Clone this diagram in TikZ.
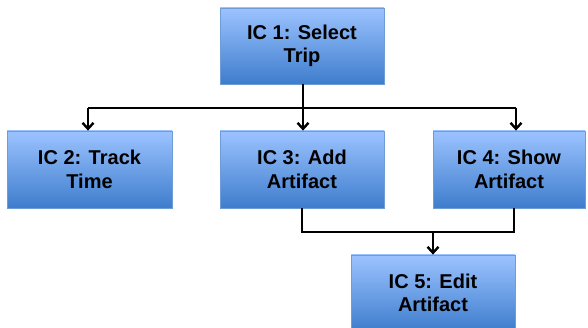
\documentclass[tikz,border=0pt]{standalone}
\usepackage{fontspec}
\setmainfont{Liberation Sans}
\usetikzlibrary{arrows.meta}
\definecolor{boxtop}{HTML}{9CC3FF}
\definecolor{boxbot}{HTML}{3E7DCD}
\definecolor{boxedge}{HTML}{6E9CD6}
\tikzset{
  icbox/.style={draw=boxedge, line width=0.8pt, top color=boxtop, bottom color=boxbot,
    align=center, font=\fontsize{20}{23.5}\selectfont\bfseries, inner sep=0pt},
  link/.style={line width=2.6pt, line join=miter},
  linkarrow/.style={link, -{Straight Barb[length=6pt,width=11pt,line width=2.4pt]}}
}
\begin{document}
\begin{tikzpicture}[x=1pt,y=-1pt]
  \useasboundingbox (0,0) rectangle (588,328);
  \begin{scope}
  \clip (0,0) rectangle (588,328);
  % boxes (corner coordinates in pixels)
  \node[icbox, minimum width=164pt, minimum height=76pt] (ic1) at (302,46) {IC 1: Select\\Trip};
  \node[icbox, minimum width=165pt, minimum height=77pt] (ic2) at (89.5,169.5) {IC 2: Track\\Time};
  \node[icbox, minimum width=164pt, minimum height=77pt] (ic3) at (302,169.5) {IC 3: Add\\Artifact};
  \node[icbox, minimum width=152pt, minimum height=77pt] (ic4) at (509,169.5) {IC 4: Show\\Artifact};
  \node[icbox, minimum width=164pt, minimum height=76pt] (ic5) at (433,293) {IC 5: Edit\\Artifact};
  \end{scope}
  % connector junctions
  \coordinate (top) at (303,108);
  \coordinate (l) at (88,108);
  \coordinate (r) at (516,108);
  \coordinate (bl) at (302,232);
  \coordinate (br) at (514,232);
  \coordinate (bm) at (433,232);
  % fan-out from IC 1
  \draw[link] (ic1.south -| top) -- (top);
  \draw[link] (l) -- (r);
  \draw[linkarrow] (l) -- (l |- ic2.north);
  \draw[linkarrow] (top) -- (top |- ic3.north);
  \draw[linkarrow] (r) -- (r |- ic4.north);
  % merge into IC 5
  \draw[link] (ic3.south -| bl) -- (bl) -- (br) -- (ic4.south -| br);
  \draw[linkarrow] (bm) -- (ic5.north);
\end{tikzpicture}
\end{document}
